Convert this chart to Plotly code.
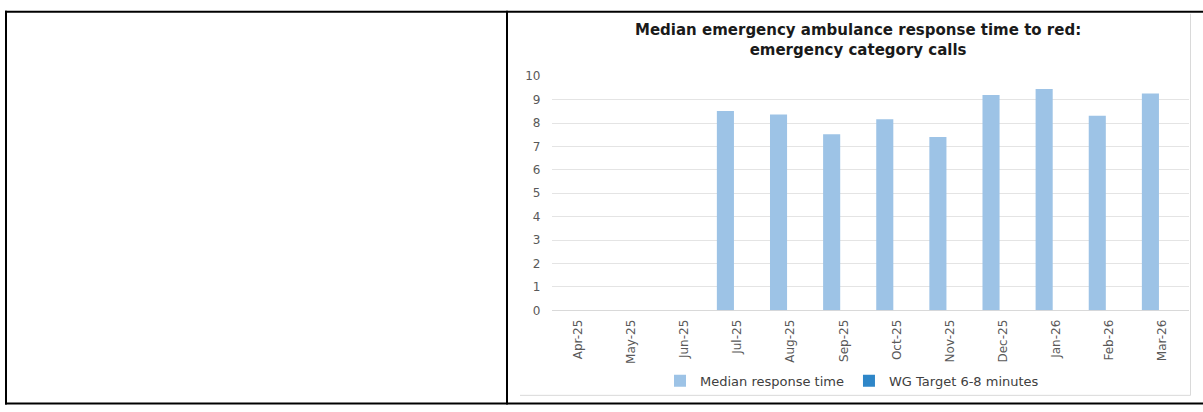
import plotly.graph_objects as go

W, H = 1203, 412

months = ["Apr-25", "May-25", "Jun-25", "Jul-25", "Aug-25", "Sep-25",
          "Oct-25", "Nov-25", "Dec-25", "Jan-26", "Feb-26", "Mar-26"]
median_response = [None, None, None, 8.52, 8.37, 7.52, 8.16, 7.41, 9.20, 9.46, 8.31, 9.26]
wg_target = [None, None, None, None, None, None, None, None, None, None, None, None]
y_ticks = [0, 1, 2, 3, 4, 5, 6, 7, 8, 9, 10]

title_text = "Median emergency ambulance response time to red:<br>emergency category calls"

FONT = "DejaVu Sans, Liberation Sans, Arial, sans-serif"


def px(x):
    return x / W


def py(y):
    return 1 - y / H


fig = go.Figure()
fig.add_trace(go.Bar(x=months, y=median_response, name="Median response time",
                     marker=dict(color="#9DC3E6", line=dict(width=0))))
fig.add_trace(go.Bar(x=months, y=wg_target, name="WG Target 6-8 minutes",
                     marker=dict(color="#2E86C8", line=dict(width=0))))

shapes = []
black = dict(color="black", width=2)
# table borders
shapes.append(dict(type="line", xref="paper", yref="paper", x0=px(5), x1=px(1203), y0=py(5), y1=py(5), line=black))
shapes.append(dict(type="line", xref="paper", yref="paper", x0=px(5), x1=px(1203), y0=py(410.5), y1=py(410.5), line=black))
shapes.append(dict(type="line", xref="paper", yref="paper", x0=px(6), x1=px(6), y0=py(4), y1=py(411.5), line=black))
shapes.append(dict(type="line", xref="paper", yref="paper", x0=px(507), x1=px(507), y0=py(4), y1=py(411.5), line=black))
# chart frame (light)
grey = dict(color="#D9D9D9", width=1)
shapes.append(dict(type="line", xref="paper", yref="paper", x0=px(520), x1=px(1190.5), y0=py(402), y1=py(402), line=grey))
shapes.append(dict(type="line", xref="paper", yref="paper", x0=px(1190.5), x1=px(1190.5), y0=py(7), y1=py(402), line=grey))

fig.update_layout(
    width=W, height=H,
    margin=dict(l=0, r=0, t=0, b=0),
    paper_bgcolor="white", plot_bgcolor="white",
    barmode="group", bargap=0.094, bargroupgap=0.29,
    font=dict(family=FONT, color="#595959", size=12),
    showlegend=True,
    legend=dict(orientation="h", x=px(660), xanchor="left", y=py(387), yanchor="middle",
                font=dict(family=FONT, size=13, color="#404040"),
                bgcolor="rgba(0,0,0,0)", itemsizing="constant", tracegroupgap=0,
                entrywidth=0),
    shapes=shapes,
    annotations=[dict(text="<b>" + title_text + "</b>", xref="paper", yref="paper",
                      x=px(858), y=py(34), xanchor="center", yanchor="middle",
                      showarrow=False, align="center",
                      font=dict(family=FONT, size=15, color="#1A1A1A"))],
    xaxis=dict(domain=[px(551.5), px(1189)], type="category", tickangle=-90,
               showgrid=False, showline=False, zeroline=False, ticks="",
               ticklabelstandoff=6,
               tickfont=dict(family=FONT, size=12, color="#595959")),
    yaxis=dict(domain=[py(314), py(71.7)], range=[0, 10], tickvals=y_ticks,
               showgrid=True, gridcolor="#E4E4E4", gridwidth=1,
               zeroline=True, zerolinecolor="#D9D9D9", zerolinewidth=1,
               showline=False, ticks="", ticklabelstandoff=10,
               tickfont=dict(family=FONT, size=12, color="#595959")),
)

fig.write_html("out.html")
